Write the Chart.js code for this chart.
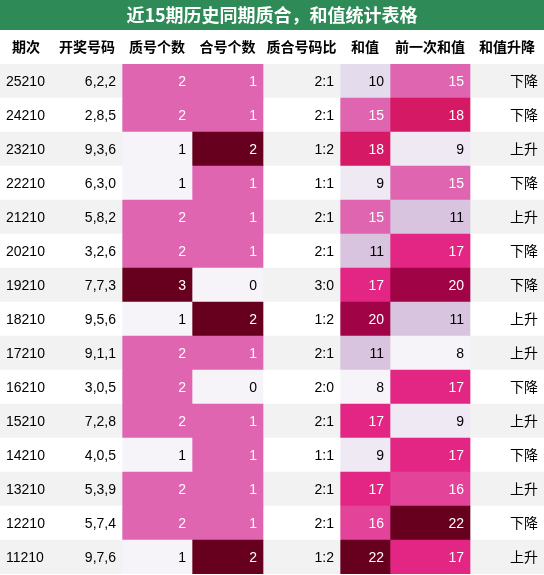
<!DOCTYPE html>
<html><head><meta charset="utf-8">
<script src="https://cdn.jsdelivr.net/npm/chart.js@4/dist/chart.umd.min.js"></script>
<style>html,body{margin:0;padding:0;background:#fff}#w{width:544px;height:575px}</style>
</head><body><div id="w"><canvas id="c"></canvas></div>
<script>
const titleText = '近15期历史同期质合，和值统计表格';
const headers = ['期次','开奖号码','质号个数','合号个数','质合号码比','和值','前一次和值','和值升降'];
const periods = ['25210','24210','23210','22210','21210','20210','19210','18210','17210','16210','15210','14210','13210','12210','11210'];
const draws = ['6,2,2','2,8,5','9,3,6','6,3,0','5,8,2','3,2,6','7,7,3','9,5,6','9,1,1','3,0,5','7,2,8','4,0,5','5,3,9','5,7,4','9,7,6'];
const primeCount = [2,2,1,1,2,2,3,1,2,2,2,1,2,2,1];
const compositeCount = [1,1,2,1,1,1,0,2,1,0,1,1,1,1,2];
const ratios = ['2:1','2:1','1:2','1:1','2:1','2:1','3:0','1:2','2:1','2:0','2:1','1:1','2:1','2:1','1:2'];
const sums = [10,15,18,9,15,11,17,20,11,8,17,9,17,16,22];
const prevSums = [15,18,9,15,11,17,20,11,8,17,9,17,16,22,17];
const trends = ['下降','下降','上升','下降','上升','下降','下降','上升','上升','下降','上升','下降','上升','下降','上升'];

const edges = [0,52,122,192,263,340,390,470,544];
const columns = [periods, draws, primeCount, compositeCount, ratios, sums, prevSums, trends];
const heat = [false,false,true,true,false,true,true,false];
const stops = ['#f7f4f9','#e7e1ef','#d4b9da','#c994c7','#df65b0','#e7298a','#ce1256','#980043','#67001f'];
function hex(h){return [1,3,5].map(i=>parseInt(h.substr(i,2),16));}
function cmap(t){t=Math.max(0,Math.min(1,t));const p=t*(stops.length-1);const i=Math.min(Math.floor(p),stops.length-2);const f=p-i;
 const a=hex(stops[i]),b=hex(stops[i+1]);return 'rgb('+a.map((v,k)=>Math.round(v+(b[k]-v)*f)).join(',')+')';}
function lum(c){const m=c[0]==='#'?hex(c):c.match(/\d+/g).map(Number);return (0.299*m[0]+0.587*m[1]+0.114*m[2])/255;}
const cellColors = columns.map((col,ci)=>{
  if(!heat[ci]) return col.map((_,r)=> r%2===0?'#f2f2f2':'#ffffff');
  const mn=Math.min(...col), mx=Math.max(...col);
  return col.map(v=>cmap((v-mn)/(mx-mn)));
});
const datasets = columns.map((col,ci)=>({
  data: col.map(()=>[edges[ci],edges[ci+1]]),
  backgroundColor: cellColors[ci], borderWidth:0, barPercentage:1, categoryPercentage:1, grouped:false
}));
const font = '14px "Liberation Sans","Noto Sans CJK SC",sans-serif';
const tablePlugin = {
  id:'tbl',
  afterDatasetsDraw(chart){
    const ctx=chart.ctx; ctx.save();
    ctx.fillStyle='#2e8b57'; ctx.fillRect(0,0,chart.width,30);
    ctx.fillStyle='#fff'; ctx.font='bold 18px "Noto Sans CJK SC",sans-serif';
    ctx.textAlign='center'; ctx.textBaseline='middle';
    ctx.fillText(titleText, chart.width/2, 15);
    ctx.fillStyle='#000'; ctx.font='bold 14px "Noto Sans CJK SC",sans-serif';
    const xs=chart.scales.x;
    headers.forEach((h,i)=>{
      const l=xs.getPixelForValue(edges[i]), r=xs.getPixelForValue(edges[i+1]);
      ctx.fillText(h,(l+r)/2,47);
    });
    ctx.font=font;
    columns.forEach((col,ci)=>{
      const meta=chart.getDatasetMeta(ci);
      meta.data.forEach((bar,r)=>{
        const l=xs.getPixelForValue(edges[ci]), rr=xs.getPixelForValue(edges[ci+1]);
        ctx.fillStyle = lum(cellColors[ci][r])<0.6 ? '#fff':'#000';
        if(ci===0){ctx.textAlign='left';ctx.fillText(String(col[r]),l+6,bar.y+1);}
        else {ctx.textAlign='right';ctx.fillText(String(col[r]),rr-6,bar.y+1);}
      });
    });
    ctx.restore();
  }
};
new Chart(document.getElementById('c'),{
  type:'bar',
  data:{labels:periods,datasets},
  options:{
    indexAxis:'y', responsive:true, maintainAspectRatio:false, animation:false,
    layout:{padding:{top:64,left:0,right:0,bottom:1}},
    plugins:{legend:{display:false},tooltip:{enabled:false},title:{display:false}},
    scales:{
      x:{type:'linear',min:0,max:544,display:false},
      y:{display:false,grid:{display:false}}
    }
  },
  plugins:[tablePlugin]
});
</script></body></html>
